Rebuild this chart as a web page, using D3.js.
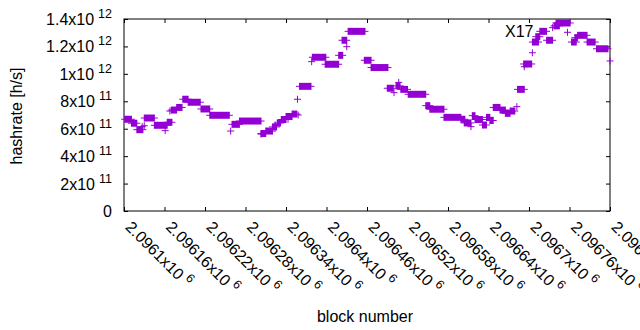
<!DOCTYPE html>
<html>
<head>
<meta charset="utf-8">
<script src="https://cdn.jsdelivr.net/npm/d3@7"></script>
<style>
  body { margin: 0; background: #fff; }
  svg { display: block; font-family: "Liberation Sans", Arial, sans-serif; }
  .lbl { font-size: 16px; fill: #000; }
</style>
</head>
<body>
<svg id="chart" width="640" height="330"></svg>
<script>
const blockRuns = [
  [2096101, 2096111, 6.69e11], [2096111, 2096119, 6.40e11], [2096119, 2096128, 5.93e11],
  [2096127, 2096127, 6.15e11], [2096130, 2096145, 6.78e11], [2096130, 2096130, 6.22e11],
  [2096145, 2096164, 6.25e11], [2096161, 2096161, 5.86e11], [2096164, 2096171, 6.47e11],
  [2096168, 2096168, 7.29e11], [2096170, 2096178, 7.36e11], [2096178, 2096186, 7.55e11],
  [2096187, 2096195, 8.15e11], [2096195, 2096213, 7.93e11], [2096214, 2096227, 7.44e11],
  [2096227, 2096256, 6.98e11], [2096258, 2096258, 5.83e11], [2096260, 2096271, 6.32e11],
  [2096271, 2096303, 6.56e11], [2096303, 2096303, 5.61e11], [2096303, 2096310, 5.65e11],
  [2096310, 2096320, 5.83e11], [2096320, 2096326, 6.13e11], [2096324, 2096324, 6.27e11],
  [2096327, 2096332, 6.42e11], [2096333, 2096340, 6.67e11], [2096340, 2096349, 6.89e11],
  [2096343, 2096343, 6.69e11], [2096349, 2096356, 7.07e11], [2096357, 2096357, 8.15e11],
  [2096358, 2096358, 7.00e11], [2096360, 2096377, 9.09e11], [2096378, 2096378, 10.89e11],
  [2096379, 2096399, 11.21e11], [2096398, 2096418, 10.70e11], [2096418, 2096424, 11.35e11],
  [2096423, 2096430, 12.45e11], [2096430, 2096430, 11.98e11], [2096432, 2096457, 13.10e11],
  [2096456, 2096466, 10.99e11], [2096466, 2096491, 10.46e11], [2096490, 2096499, 8.95e11],
  [2096500, 2096500, 8.63e11], [2096503, 2096509, 9.12e11], [2096507, 2096507, 9.38e11],
  [2096510, 2096520, 8.87e11], [2096521, 2096547, 8.51e11], [2096547, 2096553, 7.68e11],
  [2096553, 2096574, 7.42e11], [2096574, 2096599, 6.83e11], [2096599, 2096605, 6.69e11],
  [2096604, 2096614, 6.42e11], [2096614, 2096614, 6.15e11], [2096616, 2096620, 6.95e11],
  [2096620, 2096631, 6.67e11], [2096631, 2096637, 6.27e11], [2096637, 2096642, 6.83e11],
  [2096642, 2096647, 6.60e11], [2096647, 2096657, 7.55e11], [2096657, 2096665, 7.36e11],
  [2096665, 2096672, 7.12e11], [2096672, 2096679, 7.29e11], [2096682, 2096682, 7.61e11],
  [2096683, 2096693, 8.87e11], [2096692, 2096704, 10.72e11], [2096693, 2096693, 10.52e11],
  [2096705, 2096705, 11.54e11], [2096705, 2096714, 12.32e11], [2096710, 2096716, 12.71e11],
  [2096716, 2096726, 13.10e11], [2096726, 2096735, 12.45e11], [2096735, 2096735, 13.37e11],
  [2096737, 2096745, 13.50e11], [2096740, 2096761, 13.71e11], [2096757, 2096757, 13.03e11],
  [2096763, 2096770, 12.32e11], [2096768, 2096772, 12.64e11], [2096772, 2096786, 12.81e11],
  [2096786, 2096798, 12.32e11], [2096800, 2096817, 11.83e11], [2096820, 2096820, 10.94e11],
];

const xTicks = [2096100, 2096160, 2096220, 2096280, 2096340, 2096400, 2096460,
                2096520, 2096580, 2096640, 2096700, 2096760, 2096820];
const xTickMant = ["2.0961", "2.09616", "2.09622", "2.09628", "2.09634", "2.0964", "2.09646",
                   "2.09652", "2.09658", "2.09664", "2.0967", "2.09676", "2.09682"];
const xTickExp = "6";

const yTicks = [0, 2e11, 4e11, 6e11, 8e11, 1e12, 1.2e12, 1.4e12];
const yTickMant = ["0", "2", "4", "6", "8", "1", "1.2", "1.4"];
const yTickExp = ["", "11", "11", "11", "11", "12", "12", "12"];

const COLOR = "#9400d3";
const M = { top: 19, left: 124 };
const W = 486, H = 192;
const PT = 3.5;   // half size of the "+" marker

const svg = d3.select("#chart");
const g = svg.append("g").attr("transform", `translate(${M.left},${M.top})`);

const x = d3.scaleLinear().domain([2096100, 2096820]).range([0, W]);
const y = d3.scaleLinear().domain([0, 1.4e12]).range([H, 0]);

// ticks on all four sides, pointing inward
const tickStyle = sel => {
  sel.select(".domain").remove();
  sel.selectAll(".tick text").remove();
  sel.selectAll(".tick line").attr("stroke", "#000");
};
const axB = g.append("g").attr("transform", `translate(0,${H})`)
  .call(d3.axisBottom(x).tickValues(xTicks).tickSize(-4)).call(tickStyle);
g.append("g").call(d3.axisTop(x).tickValues(xTicks).tickSize(-4)).call(tickStyle);
const axL = g.append("g")
  .call(d3.axisLeft(y).tickValues(yTicks).tickSize(-4)).call(tickStyle);
g.append("g").attr("transform", `translate(${W},0)`)
  .call(d3.axisRight(y).tickValues(yTicks).tickSize(-4)).call(tickStyle);

// frame
g.append("rect").attr("width", W).attr("height", H)
  .attr("fill", "none").attr("stroke", "#000").attr("stroke-width", 1);

// y tick labels  "6x10^11"
axL.selectAll(".tick").each(function(d, i) {
  const t = d3.select(this).append("text").attr("class", "lbl")
    .attr("x", -12).attr("y", 5.5).attr("text-anchor", "end");
  if (yTickExp[i]) {
    t.append("tspan").text(yTickMant[i] + "x10");
    t.append("tspan").attr("dx", 4).attr("dy", -7).attr("font-size", 12.5).text(yTickExp[i]);
  } else {
    t.text(yTickMant[i]);
  }
});

// x tick labels, rotated
axB.selectAll(".tick").each(function(d, i) {
  const t = d3.select(this).append("text").attr("class", "lbl")
    .attr("transform", "translate(0,17) rotate(45)").attr("text-anchor", "start");
  t.append("tspan").text(xTickMant[i] + "x10");
  t.append("tspan").attr("dx", 4).attr("dy", -7).attr("font-size", 12.5).text(xTickExp);
});

// points: each run of equal values is a row of "+" markers
const pts = g.append("g");
pts.selectAll("rect").data(blockRuns).join("rect")
  .attr("x", d => x(d[0]) - 0.5)
  .attr("width", d => x(d[1]) - x(d[0]) + 1)
  .attr("y", d => y(d[2]) - PT)
  .attr("height", 2 * PT)
  .attr("fill", COLOR);
pts.selectAll("line").data(blockRuns).join("line")
  .attr("x1", d => x(d[0]) - PT).attr("x2", d => x(d[1]) + PT)
  .attr("y1", d => y(d[2])).attr("y2", d => y(d[2]))
  .attr("stroke", COLOR).attr("stroke-width", 1);

// axis labels and key
svg.append("text").attr("class", "lbl")
  .attr("transform", "translate(22,116) rotate(-90)")
  .attr("text-anchor", "middle").text("hashrate [h/s]");
svg.append("text").attr("class", "lbl")
  .attr("x", 365).attr("y", 322).attr("text-anchor", "middle").text("block number");
svg.append("text").attr("class", "lbl")
  .attr("x", 505).attr("y", 37).text("X17");
</script>
</body>
</html>
